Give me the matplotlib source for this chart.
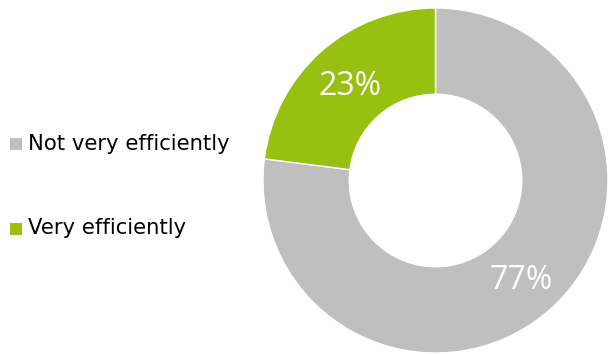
import matplotlib
matplotlib.use("Agg")
import matplotlib.pyplot as plt
from matplotlib.patches import Rectangle

categories = ["Not very efficiently", "Very efficiently"]
shares = [77, 23]
colors = ["#BFBFBF", "#98C010"]

W, H = 608, 354
fig = plt.figure(figsize=(W / 100, H / 100), dpi=100)

# donut axes, centred at (435.5, 180.5) px with outer radius 172.5 px
cx, cy, r = 435.5, H - 180.5, 172.5
ax = fig.add_axes([(cx - r) / W, (cy - r) / H, 2 * r / W, 2 * r / H])
wedges, texts, autotexts = ax.pie(
    shares,
    colors=colors,
    startangle=90,
    counterclock=False,
    radius=1.0,
    pctdistance=0.75,
    autopct=lambda p: f"{p:.0f}%",
    wedgeprops=dict(width=0.5, edgecolor="white", linewidth=1.0),
    textprops=dict(color="white", fontsize=23, family="Open Sans"),
)
for t in autotexts:
    x, y = t.get_position()
    t.set_position((x, y - 0.02))
ax.set_xlim(-1, 1)
ax.set_ylim(-1, 1)
ax.set_aspect("equal")
ax.axis("off")

# legend: coloured squares with labels
legend_y = [144, 228.5]
for label, color, y in zip(categories, colors, legend_y):
    fig.patches.append(
        Rectangle((10 / W, (H - y - 6) / H), 12 / W, 12 / H,
                  transform=fig.transFigure, facecolor=color, edgecolor="none")
    )
    fig.text(28 / W, (H - y) / H, label, fontsize=15.2, family="DejaVu Sans",
             color="#000000", va="center", ha="left")

fig.savefig("out.png", dpi=100)
